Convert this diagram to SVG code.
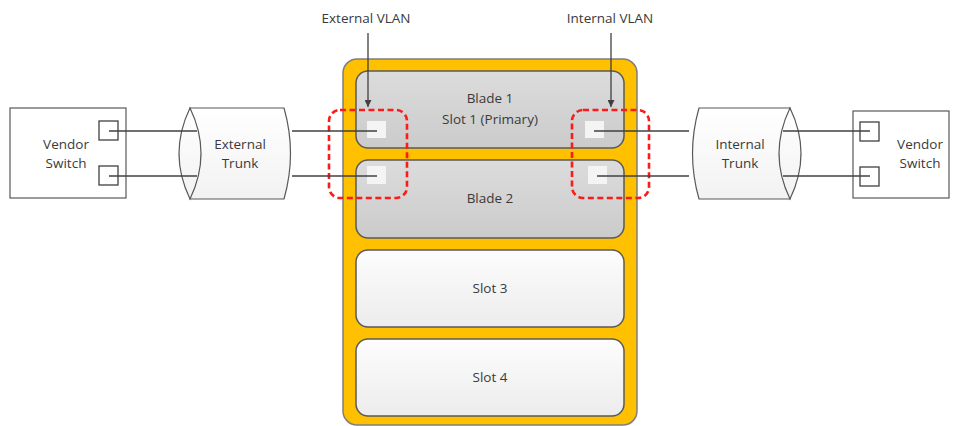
<svg xmlns="http://www.w3.org/2000/svg" width="959" height="426" viewBox="0 0 959 426">
  <defs>
    <linearGradient id="bladeFill" x1="0" y1="0" x2="0" y2="1">
      <stop offset="0" stop-color="#dcdcdc"/>
      <stop offset="1" stop-color="#cbcbcb"/>
    </linearGradient>
    <linearGradient id="slotFill" x1="0" y1="0" x2="0" y2="1">
      <stop offset="0" stop-color="#fdfdfd"/>
      <stop offset="1" stop-color="#ececec"/>
    </linearGradient>
    <linearGradient id="trunkFill" x1="0" y1="0" x2="0" y2="1">
      <stop offset="0" stop-color="#ffffff"/>
      <stop offset="1" stop-color="#f2f2f2"/>
    </linearGradient>
    <marker id="arrow" viewBox="0 0 10 10" refX="10" refY="5" markerWidth="7" markerHeight="7" orient="auto" markerUnits="userSpaceOnUse">
      <path d="M0,0 L10,5 L0,10 z" fill="#404040"/>
    </marker>
  </defs>
  <style>
    text { font-family: "Open Sans", "Liberation Sans", sans-serif; font-size: 13.5px; fill: #3a3a3a; text-anchor: middle; }
    .box { fill: #ffffff; stroke: #595959; stroke-width: 1.2; }
    .port { fill: #ffffff; stroke: #404040; stroke-width: 1.3; }
    .bport { fill: #f4f4f4; stroke: none; }
    .blade { fill: url(#bladeFill); stroke: #595959; stroke-width: 1.5; }
    .slot { fill: url(#slotFill); stroke: #595959; stroke-width: 1.5; }
    .trunk { fill: url(#trunkFill); stroke: #595959; stroke-width: 1.2; }
    .lens { fill: none; stroke: #595959; stroke-width: 1.2; }
    .wire { fill: none; stroke: #404040; stroke-width: 1.3; }
    .vlan { fill: none; stroke: #ff1a1a; stroke-width: 2.6; stroke-dasharray: 6 3.5; }
  </style>

  <!-- chassis with four slots -->
  <g id="chassis">
    <rect x="343" y="59" width="294" height="366" rx="14" fill="#ffc000" stroke="#7f7f7f" stroke-width="1.5"/>
  </g>
  <g id="blade1">
    <rect class="blade" x="356" y="71" width="268" height="77" rx="12"/>
    <text x="490" y="103">Blade 1</text>
    <text x="490" y="124">Slot 1 (Primary)</text>
    <rect class="bport" x="367" y="121" width="19" height="17"/>
    <rect class="bport" x="585" y="121" width="19" height="17"/>
  </g>
  <g id="blade2">
    <rect class="blade" x="356" y="160" width="268" height="78" rx="12"/>
    <text x="490" y="203">Blade 2</text>
    <rect class="bport" x="367" y="166" width="19" height="18"/>
    <rect class="bport" x="588" y="166" width="19" height="18"/>
  </g>
  <g id="slot3">
    <rect class="slot" x="356" y="250" width="268" height="77" rx="12"/>
    <text x="490" y="293">Slot 3</text>
  </g>
  <g id="slot4">
    <rect class="slot" x="356" y="339" width="268" height="77" rx="12"/>
    <text x="490" y="382">Slot 4</text>
  </g>

  <!-- left vendor switch -->
  <g id="vendor-switch-left">
    <rect class="box" x="10" y="108" width="116" height="90"/>
    <text x="66" y="149">Vendor</text>
    <text x="66" y="168">Switch</text>
    <rect class="port" x="99" y="121" width="19" height="19"/>
    <rect class="port" x="99" y="166" width="19" height="19"/>
  </g>

  <!-- right vendor switch -->
  <g id="vendor-switch-right">
    <rect class="box" x="853" y="111" width="96" height="87"/>
    <text x="920" y="149">Vendor</text>
    <text x="920" y="168">Switch</text>
    <rect class="port" x="860" y="122" width="19" height="19"/>
    <rect class="port" x="860" y="167" width="19" height="19"/>
  </g>

  <!-- trunks drawn as horizontal cylinders with a lens-shaped end -->
  <g id="external-trunk">
    <path class="trunk" d="M190,108 L284,108 Q297,153.5 284,199 L190,199 Z"/>
    <path class="trunk" d="M190,108 Q168,153.5 190,199 Q212,153.5 190,108 Z"/>
    <text x="240" y="149">External</text>
    <text x="240" y="168">Trunk</text>
  </g>
  <g id="internal-trunk">
    <path class="trunk" d="M790,108 L699,108 Q686,153.5 699,199 L790,199 Z"/>
    <path class="trunk" d="M790,108 Q768,153.5 790,199 Q812,153.5 790,108 Z"/>
    <text x="740" y="149">Internal</text>
    <text x="740" y="168">Trunk</text>
  </g>

  <!-- VLAN groupings -->
  <g id="external-vlan-group">
    <rect class="vlan" x="329" y="110" width="78" height="88" rx="11"/>
  </g>
  <g id="internal-vlan-group">
    <rect class="vlan" x="572" y="110" width="77" height="88" rx="11"/>
  </g>

  <!-- callout labels -->
  <g id="external-vlan-label">
    <text x="366" y="23">External VLAN</text>
  </g>
  <g id="internal-vlan-label">
    <text x="610" y="23">Internal VLAN</text>
  </g>

  <!-- connectors -->
  <g id="connectors">
    <line class="wire" x1="109" y1="131" x2="197" y2="131"/>
    <line class="wire" x1="109" y1="176" x2="197" y2="176"/>
    <line class="wire" x1="292" y1="131" x2="377" y2="131"/>
    <line class="wire" x1="292" y1="176" x2="377" y2="176"/>
    <line class="wire" x1="594" y1="131" x2="689" y2="131"/>
    <line class="wire" x1="597" y1="176" x2="689" y2="176"/>
    <line class="wire" x1="783" y1="131" x2="870" y2="131"/>
    <line class="wire" x1="783" y1="176" x2="870" y2="176"/>
    <line class="wire" x1="368" y1="33" x2="368" y2="107" marker-end="url(#arrow)"/>
    <line class="wire" x1="611" y1="33" x2="611" y2="107" marker-end="url(#arrow)"/>
  </g>
</svg>
